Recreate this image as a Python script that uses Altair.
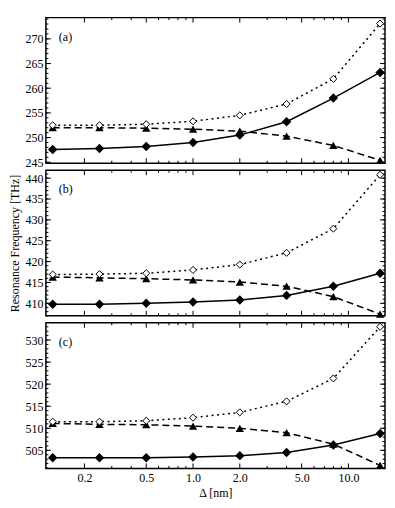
import altair as alt
import pandas as pd

# ---- data ----
x_vals = [0.125, 0.25, 0.5, 1.0, 2.0, 4.0, 8.0, 16.0]

a_solid = [247.6, 247.8, 248.2, 249.0, 250.5, 253.2, 258.0, 263.2]
a_tri = [252.0, 252.0, 251.9, 251.7, 251.3, 250.3, 248.4, 245.4]
a_open = [252.5, 252.5, 252.7, 253.3, 254.5, 256.8, 261.9, 273.1]

b_solid = [409.8, 409.8, 410.0, 410.3, 410.8, 411.9, 414.1, 417.2]
b_tri = [416.3, 416.1, 415.9, 415.6, 415.1, 414.1, 411.6, 407.4]
b_open = [416.9, 417.0, 417.2, 418.0, 419.3, 422.1, 427.9, 440.8]

c_solid = [503.3, 503.3, 503.3, 503.5, 503.8, 504.5, 506.2, 508.8]
c_tri = [511.1, 510.9, 510.8, 510.5, 510.0, 509.0, 506.4, 501.6]
c_open = [511.5, 511.5, 511.7, 512.4, 513.6, 516.1, 521.3, 533.0]

x_domain = [0.113, 17.2]
x_major = [0.2, 0.5, 1.0, 2.0, 5.0, 10.0]
x_minor = [0.3, 0.4, 0.6, 0.7, 0.8, 0.9, 3.0, 4.0, 6.0, 7.0, 8.0, 9.0]

a_domain = [244.8, 274.3]
a_major = [245, 250, 255, 260, 265, 270]
a_minor = list(range(245, 275))
b_domain = [407.0, 441.9]
b_major = [410, 415, 420, 425, 430, 435, 440]
b_minor = list(range(407, 442))
c_domain = [500.9, 533.9]
c_major = [505, 510, 515, 520, 525, 530]
c_minor = list(range(501, 534))

tags = ["(a)", "(b)", "(c)"]
x_title = "Δ [nm]"
y_title = "Resonance Frequency [THz]"

W, H = 340, 146
FONT = "Liberation Serif"


def panel(solid, tri, opn, ydom, ymaj, ymin, tag, bottom, show_ytitle):
    df = pd.DataFrame({"x": x_vals, "solid": solid, "tri": tri, "open": opn})
    xs = alt.Scale(type="log", domain=x_domain, nice=False)
    ys = alt.Scale(domain=ydom, nice=False, zero=False)
    if bottom:
        xaxis = alt.Axis(values=x_major, format=".1f", ticks=False, domain=False,
                         grid=False, labelPadding=4, title=x_title, titlePadding=4)
    else:
        xaxis = None
    yaxis = alt.Axis(values=ymaj, format="d", ticks=False, domain=False, grid=False,
                     labelPadding=3, title=(y_title if show_ytitle else None),
                     titlePadding=3)

    def X(f="x"):
        return alt.X(f + ":Q", scale=xs, axis=xaxis)

    def Y(f):
        return alt.Y(f + ":Q", scale=ys, axis=yaxis)

    base = alt.Chart(df)
    l_solid = base.mark_line(color="black", strokeWidth=1.5).encode(x=X(), y=Y("solid"))
    l_tri = base.mark_line(color="black", strokeWidth=1.5, strokeDash=[7, 4]).encode(x=X(), y=Y("tri"))
    l_open = base.mark_line(color="black", strokeWidth=1.5, strokeDash=[2, 3.5]).encode(x=X(), y=Y("open"))
    p_solid = base.mark_point(shape="diamond", filled=True, color="black", size=90, opacity=1).encode(x=X(), y=Y("solid"))
    p_tri = base.mark_point(shape="triangle-up", filled=True, color="black", size=70, opacity=1).encode(x=X(), y=Y("tri"))
    p_open = base.mark_point(shape="diamond", filled=True, fill="white", stroke="black",
                             strokeWidth=1, size=50, opacity=1).encode(x=X(), y=Y("open"))

    xmaj = alt.Chart(pd.DataFrame({"x": x_major}))
    xmin = alt.Chart(pd.DataFrame({"x": x_minor}))
    ymj = alt.Chart(pd.DataFrame({"y": ymaj}))
    ymn = alt.Chart(pd.DataFrame({"y": ymin}))
    rule = dict(color="black", strokeWidth=1)
    ticks = [
        xmaj.mark_rule(**rule).encode(x=X(), y=alt.value(H), y2=alt.value(H - 5)),
        xmaj.mark_rule(**rule).encode(x=X(), y=alt.value(0), y2=alt.value(5)),
        xmin.mark_rule(**rule).encode(x=X(), y=alt.value(H), y2=alt.value(H - 2.5)),
        xmin.mark_rule(**rule).encode(x=X(), y=alt.value(0), y2=alt.value(2.5)),
        ymj.mark_rule(**rule).encode(y=Y("y"), x=alt.value(0), x2=alt.value(5)),
        ymj.mark_rule(**rule).encode(y=Y("y"), x=alt.value(W), x2=alt.value(W - 5)),
        ymn.mark_rule(**rule).encode(y=Y("y"), x=alt.value(0), x2=alt.value(2.5)),
        ymn.mark_rule(**rule).encode(y=Y("y"), x=alt.value(W), x2=alt.value(W - 2.5)),
    ]
    label = alt.Chart(pd.DataFrame({"t": [tag]})).mark_text(
        font=FONT, fontSize=12, align="left", baseline="middle", color="black"
    ).encode(text="t:N", x=alt.value(13), y=alt.value(19))

    return alt.layer(*ticks, l_tri, l_open, l_solid, p_tri, p_open, p_solid, label).properties(
        width=W, height=H)


pa = panel(a_solid, a_tri, a_open, a_domain, a_major, a_minor, tags[0], False, False)
pb = panel(b_solid, b_tri, b_open, b_domain, b_major, b_minor, tags[1], False, True)
pc = panel(c_solid, c_tri, c_open, c_domain, c_major, c_minor, tags[2], True, False)

chart = alt.vconcat(pa, pb, pc, spacing=7, bounds="flush").properties(
    padding={"left": 0, "top": 7, "right": 0, "bottom": 0}
).configure_view(
    stroke="black", strokeWidth=1.5
).configure_axis(
    labelFont=FONT, titleFont=FONT, labelFontSize=12, titleFontSize=12,
    labelColor="black", titleColor="black", titleFontWeight="normal"
)

chart.save("out.html", embed_options={"renderer": "svg", "actions": False})
